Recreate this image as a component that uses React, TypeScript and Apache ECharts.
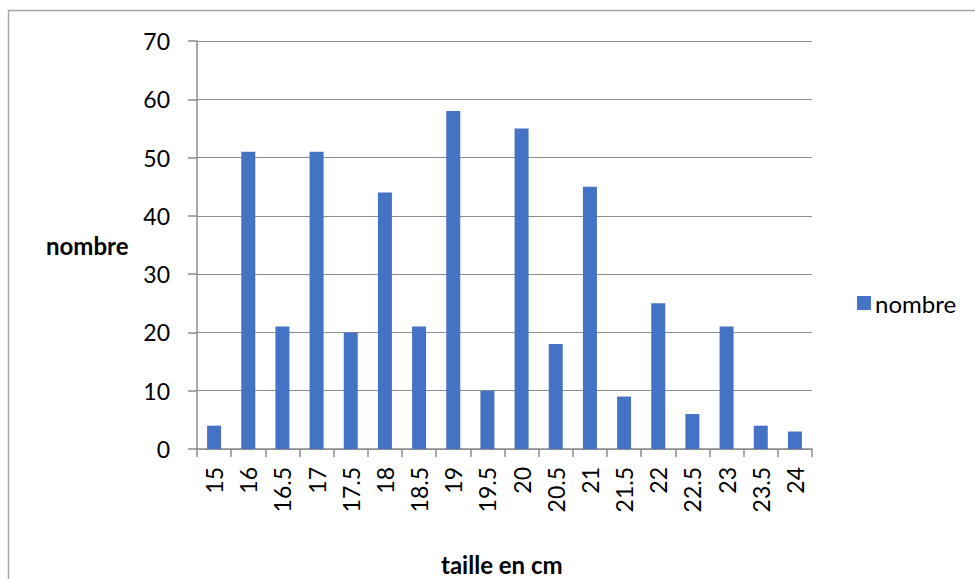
import React, { useEffect, useRef } from "react";
import * as echarts from "echarts";

const categories = ["15", "16", "16.5", "17", "17.5", "18", "18.5", "19", "19.5", "20", "20.5", "21", "21.5", "22", "22.5", "23", "23.5", "24"];
const values = [4, 51, 21, 51, 20, 44, 21, 58, 10, 55, 18, 45, 9, 25, 6, 21, 4, 3];
const seriesName = "nombre";
const yTitle = "nombre";
const xTitle = "taille en cm";

const FONT = "Lato, 'Open Sans', sans-serif";
const GRAY = "#8c8c8c";

export default function App() {
  const ref = useRef<HTMLDivElement>(null);
  useEffect(() => {
    if (!ref.current) return;
    const chart = echarts.init(ref.current, null, { renderer: "svg" });
    chart.setOption({
      animation: false,
      backgroundColor: "#ffffff",
      textStyle: { fontFamily: FONT },
      grid: { left: 197, right: 163, top: 41, bottom: 130, containLabel: false },
      legend: {
        orient: "vertical",
        left: 852,
        top: 286,
        itemWidth: 14,
        itemHeight: 14,
        itemGap: 4,
        icon: "rect",
        textStyle: { fontSize: 24, color: "#000", fontFamily: FONT, padding: [0, 0, 0, -1] },
        data: [seriesName],
      },
      xAxis: {
        type: "category",
        data: categories,
        axisLine: { lineStyle: { color: GRAY, width: 1.5 } },
        axisTick: { show: true, alignWithLabel: false, length: 8, lineStyle: { color: GRAY, width: 1.5 } },
        axisLabel: { rotate: 90, fontSize: 23, color: "#000", margin: 18, fontFamily: FONT },
        splitLine: { show: false },
      },
      yAxis: {
        type: "value",
        min: 0,
        max: 70,
        interval: 10,
        axisLine: { show: true, lineStyle: { color: GRAY, width: 1.5 } },
        axisTick: { show: true, inside: false, length: 9, lineStyle: { color: GRAY, width: 1.5 } },
        axisLabel: { fontSize: 23, color: "#000", margin: 27, fontFamily: FONT },
        splitLine: { show: true, lineStyle: { color: GRAY, width: 1 } },
      },
      series: [
        {
          name: seriesName,
          type: "bar",
          data: values,
          barWidth: 14,
          itemStyle: { color: "#4472C4" },
        },
      ],
      graphic: [
        {
          type: "rect",
          shape: { x: 8.5, y: 10.5, width: 1000, height: 600 },
          style: { fill: "none", stroke: "#a6a6a6", lineWidth: 1.5 },
          silent: true,
          z: -10,
        },
        {
          type: "text",
          left: 46,
          top: 233,
          style: { text: yTitle, font: `bold 24px ${FONT}`, fill: "#000" },
        },
        {
          type: "text",
          left: 441,
          top: 552,
          style: { text: xTitle, font: `bold 24px ${FONT}`, fill: "#000" },
        },
      ],
    });
    return () => chart.dispose();
  }, []);
  return (
    <div
      ref={ref}
      style={{ position: "absolute", left: 0, top: 0, width: 975, height: 579 }}
    />
  );
}
